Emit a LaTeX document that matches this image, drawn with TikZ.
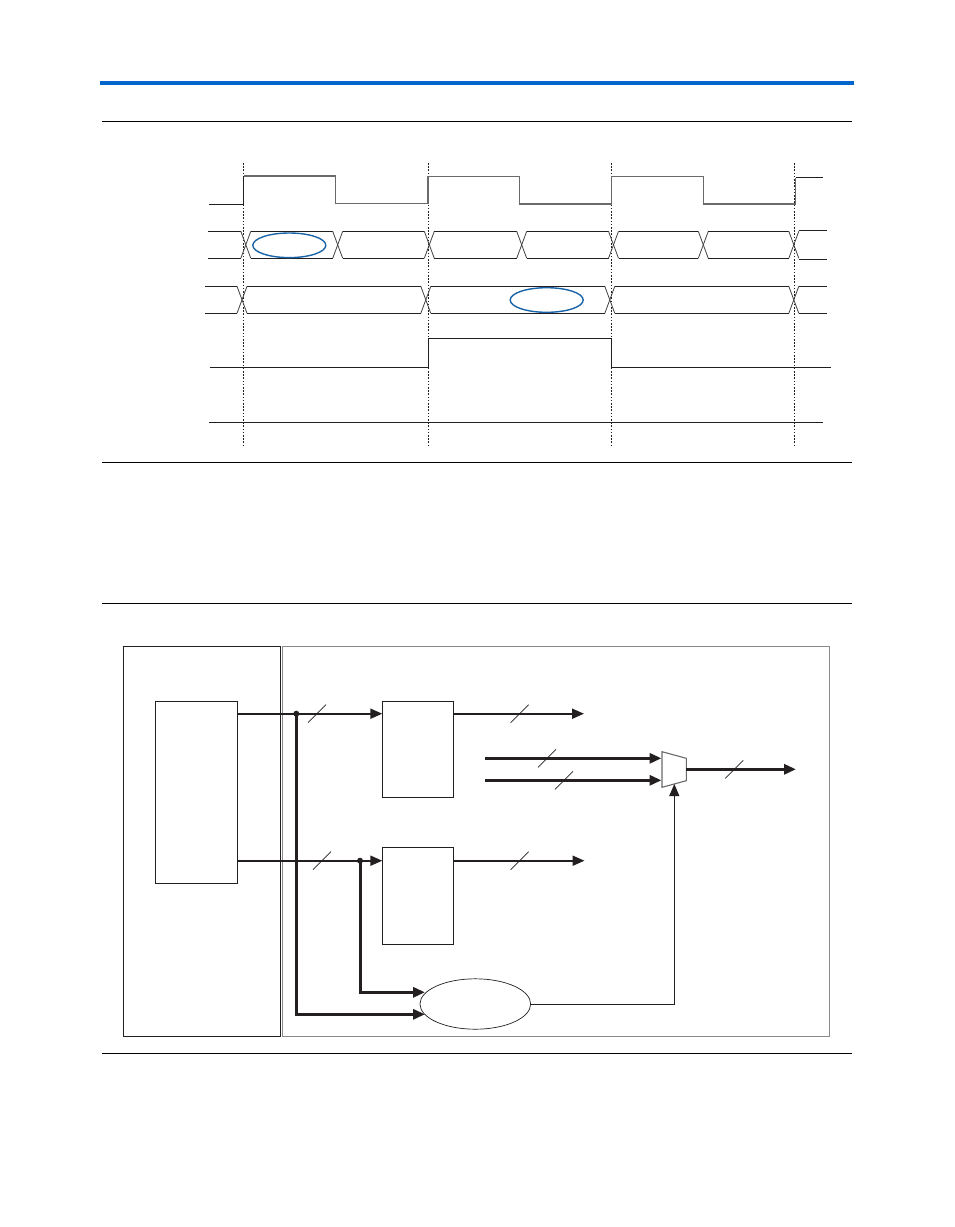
\documentclass[tikz,border=0pt]{standalone}
\usetikzlibrary{arrows.meta,shapes.geometric}
\definecolor{ink}{HTML}{231F20}
\definecolor{barblue}{HTML}{0066CC}
\definecolor{ringblue}{HTML}{1A64A8}
\definecolor{soft}{HTML}{8A8A8A}
\tikzset{
  rulebar/.style={draw=black,line width=1pt},
  wave/.style={draw=ink,line width=1pt,line join=miter},
  softwave/.style={draw=soft!70!ink,line width=1.15pt,line join=miter},
  legline/.style={draw=ink!85,line width=0.8pt},
  marker/.style={draw=ink,line width=1pt,dash pattern=on 1.6pt off 1.6pt},
  ring/.style={ellipse,draw=ringblue,line width=1.4pt,inner sep=0pt,minimum width=73pt,minimum height=24.6pt},
  boxa/.style={rectangle,draw=ink,line width=1pt,inner sep=0pt,anchor=north west},
  frameb/.style={rectangle,draw=soft,line width=1.1pt,inner sep=0pt,anchor=north west},
  bus/.style={draw=ink,line width=2pt,-{Triangle[length=12pt,width=10pt]}},
  fatbus/.style={draw=ink,line width=3pt,-{Triangle[length=12pt,width=10pt]},line join=miter},
  thinarrow/.style={draw=ink,line width=1pt,-{Triangle[length=12pt,width=10pt]}},
  slash/.style={draw=ink,line width=0.7pt},
  jdot/.style={circle,fill=ink,inner sep=0pt,minimum size=6pt},
}
\begin{document}
\begin{tikzpicture}[x=1pt,y=-1pt]
\useasboundingbox (0,0) rectangle (954,1227);
\fill[white] (0,0) rectangle (954,1227);
% header
\fill[barblue] (100,81) rectangle (854,85);
\foreach \yy in {121.5,462.5,603.5,1053.5}{\draw[rulebar] (102,\yy) -- (852,\yy);}
% markers
\foreach \xx in {243.4,428.3,611.3,794.5}{\draw[marker] (\xx,163) -- (\xx,447);}
% clock
\draw[wave] (209.3,204) -- (243.5,204) -- (243.5,176);
\draw[softwave] (243.5,176) -- (335.3,176) -- (335.3,203.5) -- (428,203.5) -- (428,176.5) -- (519.5,176.5) -- (519.5,204) -- (611.3,204) -- (611.3,176.5) -- (703.4,176.5) -- (703.4,204) -- (795.5,204) -- (795.5,177.5);
\draw[wave] (795.5,177.5) -- (822.5,177.5);
% bus rows
\newcommand{\busrow}[3]{%
  \foreach \ca/\cb in {#3}{
    \draw[wave] (\ca+5,#1) -- (\cb-5,#1);
    \draw[wave] (\ca+5,#2) -- (\cb-5,#2);
    \draw[legline] (\cb-5,#1) -- (\cb+5,#2);
    \draw[legline] (\cb-5,#2) -- (\cb+5,#1);
  }}
\busrow{231.3}{258.3}{203.3/245.8,245.8/337.7,337.7/429.3,429.3/521.7,521.7/613.5,613.5/703.3,703.3/793.8}
\draw[wave] (798.8,230.3) -- (826.7,230.3);
\draw[wave] (798.8,259.3) -- (826.7,259.3);
\busrow{286.3}{313.3}{200/242,242/425.8,425.8/609.8,609.8/793.8}
\draw[wave] (798.8,286.3) -- (826.7,286.3);
\draw[wave] (798.8,313.3) -- (826.7,313.3);
% level lines
\draw[wave] (209.7,367.3) -- (428,367.3) -- (428,338.3) -- (611.3,338.3) -- (611.3,367.3) -- (831.3,367.3);
\draw[wave] (209.3,422.3) -- (822.7,422.3);
\node[ring] (ringa) at (289.3,245.3) {};
\node[ring] (ringb) at (546.7,300) {};
% block diagram
\node[boxa,minimum width=157pt,minimum height=390pt] (left) at (123.3,646.3) {};
\node[frameb,minimum width=547pt,minimum height=390pt] (right) at (282.3,646.3) {};
\node[boxa,minimum width=82pt,minimum height=182pt] (src) at (155.3,701.3) {};
\node[boxa,minimum width=71pt,minimum height=96pt] (blocka) at (382.3,701.3) {};
\node[boxa,minimum width=71pt,minimum height=97pt] (blockb) at (382.3,847.3) {};
\node[ellipse,draw=ink,line width=0.7pt,inner sep=0pt,minimum width=110.7pt,minimum height=50.4pt] (cmp) at (475.3,1004) {};
\draw[draw=soft!70!ink,fill=white,line width=1.1pt] (662,751.7) -- (686.3,758.3) -- (686.3,780.7) -- (662,787.3) -- cycle;
\coordinate (muxright) at (686.3,769.3);
\coordinate (muxbottom) at (674.3,784);
\coordinate (s1) at (237.3,713.7);
\coordinate (s2) at (237.3,860.7);
\coordinate (ina) at (382.3,713.7);
\coordinate (inb) at (382.3,860.7);
\node[jdot] (j1) at (296.3,713.7) {};
\node[jdot] (j2) at (360,860.7) {};
\coordinate (outa) at (453.3,713.7);
\coordinate (outb) at (453.3,860.7);
\coordinate (enda) at (584,713.7);
\coordinate (endb) at (584.5,860.7);
\coordinate (da) at (485,758.3);
\coordinate (db) at (485,780.3);
\coordinate (ia) at (661.5,758.3);
\coordinate (ib) at (661.5,780.3);
\coordinate (muxend) at (796,769.3);
\coordinate (cmpa) at (425,992.3);
\coordinate (cmpb) at (425,1014.3);
\draw[bus] (s1) -- (ina);
\draw[bus] (s2) -- (inb);
\draw[bus] (outa) -- (enda);
\draw[bus] (outb) -- (endb);
\draw[fatbus] (da) -- (ia);
\draw[fatbus] (db) -- (ib);
\draw[fatbus] (muxright) -- (muxend);
\draw[fatbus] (j1.center) |- (cmpb);
\draw[fatbus] (j2.center) |- (cmpa);
\draw[thinarrow] (cmp.east) -| (muxbottom);
\foreach \cx/\cy in {317/713.7,322/860.7,519.7/713.7,519.7/860.7,547/758.3,564/780.3,734.3/769.3}{
  \draw[slash] (\cx-9,\cy+9) -- (\cx+9,\cy-9);
}
\end{tikzpicture}
\end{document}
